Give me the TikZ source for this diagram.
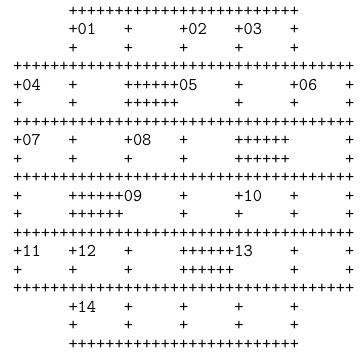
\documentclass[tikz,border=0pt]{standalone}
\usepackage{tikz}

\begin{document}
\begin{tikzpicture}[
    x=1pt, y=1pt,
    txt/.style = {anchor=base west, inner sep=0pt, font=\fontsize{17.9}{17.9}\selectfont\ttfamily}
]
\useasboundingbox (0, 0) rectangle (363, -354);

% Rows of the grid
\node (r0) [txt] at (13, -16.3) {~~~~~~+++++++++++++++++++++++++};
\node (r1) [txt] at (13, -34.8) {~~~~~~+01~~~+~~~~~+02~~~+03~~~+};
\node (r2) [txt] at (13, -53.3) {~~~~~~+~~~~~+~~~~~+~~~~~+~~~~~+};
\node (r3) [txt] at (13, -71.8) {+++++++++++++++++++++++++++++++++++++};
\node (r4) [txt] at (13, -90.3) {+04~~~+~~~~~++++++05~~~~+~~~~~+06~~~+};
\node (r5) [txt] at (13, -108.8) {+~~~~~+~~~~~++++++~~~~~~+~~~~~+~~~~~+};
\node (r6) [txt] at (13, -127.3) {+++++++++++++++++++++++++++++++++++++};
\node (r7) [txt] at (13, -145.8) {+07~~~+~~~~~+08~~~+~~~~~++++++~~~~~~+};
\node (r8) [txt] at (13, -164.3) {+~~~~~+~~~~~+~~~~~+~~~~~++++++~~~~~~+};
\node (r9) [txt] at (13, -182.8) {+++++++++++++++++++++++++++++++++++++};
\node (r10) [txt] at (13, -201.3) {+~~~~~++++++09~~~~+~~~~~+10~~~+~~~~~+};
\node (r11) [txt] at (13, -219.8) {+~~~~~++++++~~~~~~+~~~~~+~~~~~+~~~~~+};
\node (r12) [txt] at (13, -238.3) {+++++++++++++++++++++++++++++++++++++};
\node (r13) [txt] at (13, -256.8) {+11~~~+12~~~+~~~~~++++++13~~~~+~~~~~+};
\node (r14) [txt] at (13, -275.3) {+~~~~~+~~~~~+~~~~~++++++~~~~~~+~~~~~+};
\node (r15) [txt] at (13, -293.8) {+++++++++++++++++++++++++++++++++++++};
\node (r16) [txt] at (13, -312.3) {~~~~~~+14~~~+~~~~~+~~~~~+~~~~~+};
\node (r17) [txt] at (13, -330.8) {~~~~~~+~~~~~+~~~~~+~~~~~+~~~~~+};
\node (r18) [txt] at (13, -349.3) {~~~~~~+++++++++++++++++++++++++};

\end{tikzpicture}
\end{document}
